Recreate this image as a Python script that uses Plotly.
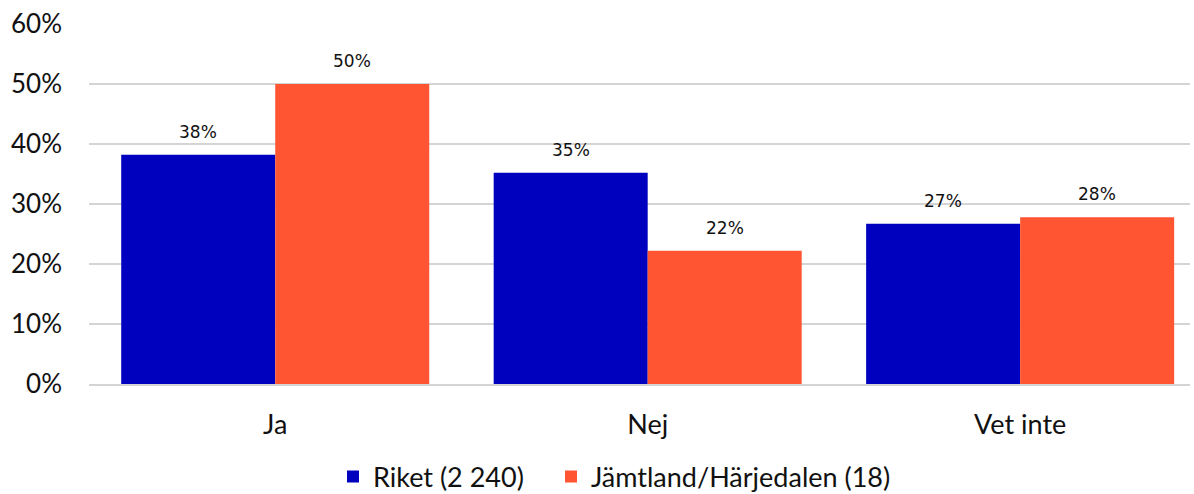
import plotly.graph_objects as go

categories = ["Ja", "Nej", "Vet inte"]
riket = [38.2, 35.2, 26.7]
jamtland = [50.0, 22.2, 27.8]
series_names = ["Riket (2 240)", "Jämtland/Härjedalen (18)"]
tick_vals = [0, 10, 20, 30, 40, 50, 60]
tick_text = ["0%", "10%", "20%", "30%", "40%", "50%", "60%"]

colors = ["#0000BF", "#FF5533"]
legends = ["legend", "legend2"]
fig = go.Figure()
for name, vals, col, lg in zip(series_names, [riket, jamtland], colors, legends):
    fig.add_trace(go.Bar(x=categories, y=vals, name=name, marker_color=col,
                         marker_line_width=0, hoverinfo="skip", legend=lg))

annotations = []
for vals, shift in [(riket, -77), (jamtland, 77)]:
    for c, v in zip(categories, vals):
        annotations.append(dict(x=c, y=v, xref="x", yref="y", xshift=shift, yshift=23,
                                text=f"{round(v)}%", showarrow=False,
                                font=dict(family="DejaVu Sans", size=17, color="#111111")))

legend_common = dict(orientation="h", xref="container", yref="container", xanchor="left",
                     yanchor="middle", y=1 - 477 / 494,
                     font=dict(family="Lato", size=27, color="#111111"), itemwidth=30)

fig.update_layout(
    width=1194, height=494,
    margin=dict(l=89, r=4, t=24, b=110, autoexpand=False),
    paper_bgcolor="white", plot_bgcolor="white",
    barmode="group", bargap=0.173, bargroupgap=0,
    font=dict(family="Lato", size=24, color="#111111"),
    showlegend=True,
    legend=dict(x=333 / 1194, **legend_common),
    legend2=dict(x=551 / 1194, **legend_common),
    annotations=annotations,
)
fig.update_yaxes(range=[0, 60], tickvals=tick_vals, ticktext=tick_text,
                 tickfont=dict(size=26),
                 showgrid=True, gridcolor="#D4D4D4", gridwidth=2, zeroline=False,
                 showline=False, ticks="", ticklabelstandoff=26, automargin=False)
fig.update_xaxes(range=[-0.5, 2.456], showline=True, linecolor="#D4D4D4", linewidth=2,
                 ticks="", tickfont=dict(size=27), ticklabelstandoff=16, automargin=False)
fig.write_html("out.html", config={"displayModeBar": False})

with open("out.html", encoding="utf-8") as f:
    html = f.read()
html = html.replace("<body>", '<body style="margin:0;overflow:hidden">', 1)
with open("out.html", "w", encoding="utf-8") as f:
    f.write(html)
